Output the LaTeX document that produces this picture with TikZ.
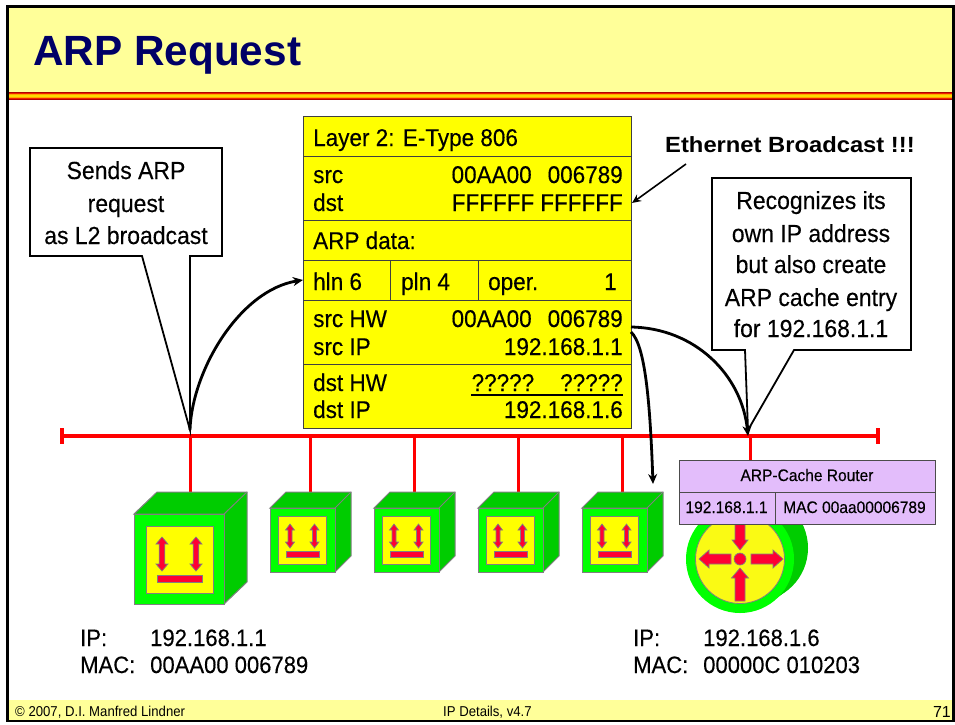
\documentclass[tikz,border=0pt]{standalone}
\usepackage{fontspec}
\setmainfont{Liberation Sans}
\newfontfamily\bodyf[FakeStretch=0.93,FakeBold=0.25]{Liberation Sans}
\newfontfamily\footf[FakeStretch=0.92]{Liberation Sans}
\usetikzlibrary{arrows.meta}
\definecolor{band}{HTML}{FFFF99}
\definecolor{titleblue}{HTML}{000066}
\definecolor{cachepurple}{HTML}{E3BDFB}
\definecolor{darkgreen}{HTML}{00CC00}
\definecolor{lightgreen}{HTML}{00FF00}
\definecolor{signal}{HTML}{FF0033}
\definecolor{edgegray}{HTML}{808080}
\definecolor{pureyellow}{RGB}{255,255,0}
\definecolor{purered}{RGB}{255,0,0}
\definecolor{stripeA}{HTML}{B00000}
\definecolor{stripeB}{HTML}{F02000}
\definecolor{stripeC}{HTML}{FFA800}
\definecolor{stripeD}{HTML}{FFD800}
\newcommand{\fsz}[1]{\fontsize{#1}{#1}\selectfont}
\tikzset{
  cell/.style={draw=black!75,line width=0.9pt,fill=pureyellow,inner sep=0pt,outer sep=0pt},
  cachecell/.style={draw=black!70,line width=0.9pt,fill=cachepurple,inner sep=0pt,outer sep=0pt},
  tl/.style={anchor=base west,inner sep=0pt,font=\bodyf\fsz{24.2}},
  tr/.style={anchor=base east,inner sep=0pt,font=\bodyf\fsz{24.2}},
  tc/.style={anchor=base,inner sep=0pt,font=\bodyf\fsz{24.7}},
  lab/.style={anchor=base west,inner sep=0pt,font=\bodyf\fsz{23.7}},
  smalltext/.style={anchor=base,inner sep=0pt,font=\bodyf\fsz{16.7}},
  foot/.style={inner sep=0pt,font=\footf\fsz{14.3}},
  callout/.style={draw=black,line width=1.8pt,fill=white,line join=miter},
  redline/.style={draw=purered,line width=3pt},
  blackarrow/.style={draw=black,line width=2.8pt,-{Stealth[length=10pt,width=9pt]}},
  thinarrow/.style={draw=black,line width=1.6pt,-{Stealth[length=9pt,width=8pt]}},
  sym/.style={fill=signal,draw=edgegray,line width=0.7pt},
  geo/.style={draw=edgegray,line width=1pt},
}
% up-down double arrow: x, y1, y2, half shaft, half head, head length
\newcommand{\dblarrow}[6]{\path[sym] (#1,#2) -- ({#1+#5},{#2+#6}) -- ({#1+#4},{#2+#6}) -- ({#1+#4},{#3-#6}) -- ({#1+#5},{#3-#6}) -- (#1,#3) -- ({#1-#5},{#3-#6}) -- ({#1-#4},{#3-#6}) -- ({#1-#4},{#2+#6}) -- ({#1-#5},{#2+#6}) -- cycle;}
\newcommand{\smallhost}[1]{%
\begin{scope}[shift={(#1,0)}]
  \path[geo,fill=darkgreen] (0,508) -- (16,492) -- (81,492) -- (81,556) -- (65,572) -- (65,508) -- cycle;
  \draw[geo] (65,508) -- (81,492);
  \path[geo,fill=lightgreen] (0,508) rectangle (65,572);
  \path[geo,fill=pureyellow] (8,516) rectangle (56,564);
  \dblarrow{20}{524}{548}{2}{4.5}{6}
  \dblarrow{44.5}{524}{548}{2}{4.5}{6}
  \path[sym] (16,551.5) rectangle (49,557);
\end{scope}}
\begin{document}
\begin{tikzpicture}[x=1pt,y=-1pt]
\useasboundingbox (0,0) rectangle (955,724);
\fill[white] (0,0) rectangle (955,724);
% slide frame, bands
\fill[band] (7,6) rectangle (953,92);
\fill[band] (7,700) rectangle (953,720);
\fill[stripeA] (6,92) rectangle (955,100);
\fill[stripeB] (6,93) rectangle (955,99);
\fill[stripeC] (6,94) rectangle (955,98);
\fill[stripeD] (6,95) rectangle (955,97);
\draw[black,line width=2.5pt] (7.5,6.5) rectangle (953.5,721);
\node[anchor=base west,inner sep=0pt,text=titleblue,font=\bfseries\fsz{42.3}] (title) at (33,65) {ARP Request};
\node[foot,anchor=base west] (foot1) at (15,716) {© 2007, D.I. Manfred Lindner};
\node[foot,anchor=base west] (foot2) at (443,716) {IP Details, v4.7};
\node[anchor=base east,inner sep=0pt,font=\fsz{16}] (foot3) at (951,717) {71};
% bus
\coordinate (busL) at (62,436);
\coordinate (busR) at (878,436);
\coordinate (t0) at (190,436);
\coordinate (t1) at (310,436);
\coordinate (t2) at (414,436);
\coordinate (t3) at (518,436);
\coordinate (t4) at (622,436);
\coordinate (t5) at (750,436);
\coordinate (h0) at (190,492);
\coordinate (h1) at (310,492);
\coordinate (h2) at (414,492);
\coordinate (h3) at (518,492);
\coordinate (h4) at (622,492);
\coordinate (h5) at (750,460);
\draw[redline,line width=3.6pt] (busL) -- (busR);
\draw[redline,line width=4pt] (62,428) -- (62,444);
\draw[redline,line width=4pt] (878,428) -- (878,444);
\foreach \i in {0,...,5} \draw[redline] (t\i) -- (h\i);
% large host
\path[geo,fill=darkgreen] (134,514) -- (157,492) -- (247,492) -- (247,582) -- (224,604) -- (224,514) -- cycle;
\draw[geo] (224,514) -- (247,492);
\path[geo,fill=lightgreen] (134,514) rectangle (224,604);
\path[geo,fill=pureyellow] (146,526) rectangle (213,593);
\dblarrow{162}{537}{571}{2.8}{6}{7}
\dblarrow{196}{537}{571}{2.8}{6}{7}
\path[sym] (157,575.5) rectangle (202,582);
% small hosts
\smallhost{270}
\smallhost{374}
\smallhost{478}
\smallhost{582}
% router
\fill[darkgreen] (754,548) circle (54);
\fill[darkgreen] (747,553) circle (54);
\fill[lightgreen] (740,559) circle (54);
\path[draw=edgegray,line width=0.8pt,fill={rgb,255:red,250;green,250;blue,20}] (740,559) circle (44.5);
\path[sym] (735,520) -- (745,520) -- (745,540) -- (748,540) -- (740,550) -- (732,540) -- (735,540) -- cycle;
\path[sym] (735,601) -- (745,601) -- (745,578) -- (748.5,578) -- (740,568) -- (731.5,578) -- (735,578) -- cycle;
\path[sym] (731,554) -- (731,564) -- (709,564) -- (709,568) -- (699,559) -- (709,550) -- (709,554) -- cycle;
\path[sym] (751,554) -- (751,564) -- (773,564) -- (773,568) -- (783,559) -- (773,550) -- (773,554) -- cycle;
\path[sym] (740,559) circle (6);
% cache table
\node[cachecell,minimum width=256pt,minimum height=32pt] (cacheH) at (807,476) {};
\node[cachecell,minimum width=96pt,minimum height=32pt] (cacheA) at (727,508) {};
\node[cachecell,minimum width=160pt,minimum height=32pt] (cacheB) at (855,508) {};
\node[smalltext] (cacheHt) at (807,481) {ARP-Cache Router};
\node[smalltext] (cacheAt) at (726.5,513) {192.168.1.1};
\node[smalltext] (cacheBt) at (854.5,513) {MAC 00aa00006789};
% frame table
\node[cell,minimum width=328pt,minimum height=40pt] (r1) at (467,136) {};
\node[cell,minimum width=328pt,minimum height=64pt] (r2) at (467,188) {};
\node[cell,minimum width=328pt,minimum height=40pt] (r3) at (467,240) {};
\node[cell,minimum width=87pt,minimum height=40pt] (r4a) at (346.5,280) {};
\node[cell,minimum width=88pt,minimum height=40pt] (r4b) at (434,280) {};
\node[cell,minimum width=153pt,minimum height=40pt] (r4c) at (554.5,280) {};
\node[cell,minimum width=328pt,minimum height=64pt] (r5) at (467,332) {};
\node[cell,minimum width=328pt,minimum height=64pt] (r6) at (467,396) {};
\node[tl] (t1a) at (313,146) {Layer 2: E-Type 806};
\node[tl] (t2a) at (313,183) {src};
\node[tr] (t2b) at (623,183) {00AA00\hspace{16pt}006789};
\node[tl] (t2c) at (313,211) {dst};
\node[tr] (t2d) at (623,211) {FFFFFF\hspace{6pt}FFFFFF};
\node[tl] (t3a) at (313,249) {ARP data:};
\node[tl] (t4a) at (313,290) {hln 6};
\node[tl] (t4b) at (401,290) {pln 4};
\node[tl] (t4c) at (488,290) {oper.};
\node[tr] (t4d) at (617,290) {1};
\node[tl] (t5a) at (313,327) {src HW};
\node[tr] (t5b) at (623,327) {00AA00\hspace{16pt}006789};
\node[tl] (t5c) at (313,355) {src IP};
\node[tr] (t5d) at (623,355) {192.168.1.1};
\node[tl] (t6a) at (313,391) {dst HW};
\node[tr] (t6b) at (623,391) {?????\hspace{26pt}?????};
\node[tl] (t6c) at (313,418) {dst IP};
\node[tr] (t6d) at (623,418) {192.168.1.6};
\draw[black,line width=1.2pt] ([yshift=-4pt]t6b.base west) -- ([yshift=-4pt]t6b.base east);
% callouts
\coordinate (tip1) at (190,430);
\coordinate (tip2) at (748,430);
\path[callout] (30,148) -- (222,148) -- (222,256) -- (190,256) -- (tip1) -- (142,256) -- (30,256) -- cycle;
\path[callout] (712,178) -- (911,178) -- (911,350) -- (794,350) -- (tip2) -- (745,350) -- (712,350) -- cycle;
\node[tc] (c1a) at (126,179) {Sends ARP};
\node[tc] (c1b) at (126,212) {request};
\node[tc] (c1c) at (126,244) {as L2 broadcast};
\node[tc] (c2a) at (811,209) {Recognizes its};
\node[tc] (c2b) at (811,242) {own IP address};
\node[tc] (c2c) at (811,273) {but also create};
\node[tc] (c2d) at (811,306) {ARP cache entry};
\node[tc] (c2e) at (811,337) {for 192.168.1.1};
% connectors
\coordinate (s5a) at (631,327);
\coordinate (s5b) at (631,332);
\coordinate (e5b) at (653,484);
\coordinate (e0) at (748,436);
\draw[blackarrow] (tip1) .. controls (192,370) and (240,290) .. (r4a.west);
\draw[blackarrow] (s5a) .. controls (695,328) and (742,375) .. (e0);
\draw[blackarrow] (s5b) .. controls (645,345) and (650,400) .. (e5b);
\node[anchor=base west,inner sep=0pt,font=\bfseries\fsz{22},xscale=1.08,transform shape] (eth) at (665,152) {Ethernet Broadcast !!!};
\coordinate (ethS) at (686,164);
\coordinate (ethE) at (632,203);
\draw[thinarrow] (ethS) -- (ethE);
% bottom labels
\node[lab] (a1) at (80,646) {IP:};
\node[lab] (a2) at (150,646) {192.168.1.1};
\node[lab] (a3) at (80,673) {MAC:};
\node[lab] (a4) at (150,673) {00AA00 006789};
\node[lab] (b1) at (633,646) {IP:};
\node[lab] (b2) at (703,646) {192.168.1.6};
\node[lab] (b3) at (633,673) {MAC:};
\node[lab] (b4) at (703,673) {00000C 010203};
\end{tikzpicture}
\end{document}
